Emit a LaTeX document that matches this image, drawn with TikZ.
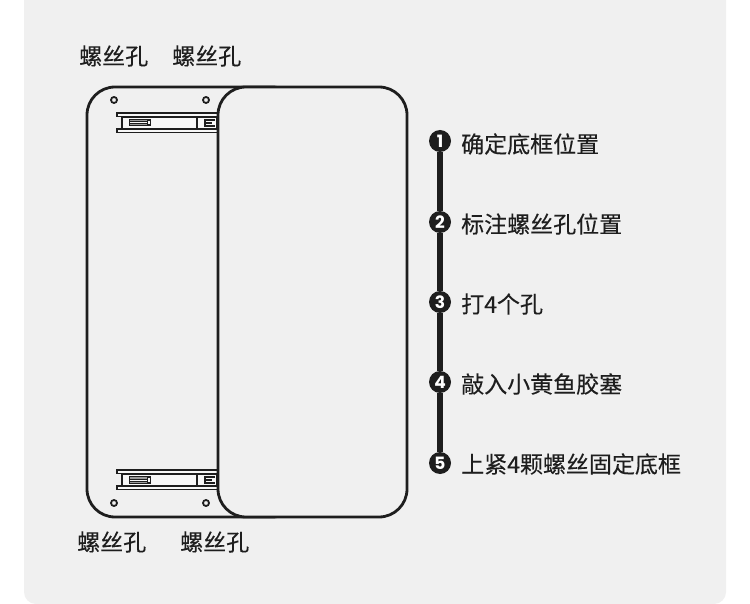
\documentclass[tikz,border=0pt]{standalone}
\usepackage{fontspec}
\setmainfont{Noto Sans CJK SC}[FakeBold=0.15]
\newfontfamily\numfont{Poppins}[BoldFont={* Bold}]
\definecolor{panelc}{HTML}{F0F0F0}
\definecolor{inkc}{HTML}{1E1E1E}
\definecolor{railc}{HTML}{F7F7F7}
\tikzset{
  lab/.style={font=\fontsize{23}{25}\selectfont, text=inkc, inner sep=0pt, anchor=west},
  board/.style={draw=inkc, line width=2.8pt, rounded corners=28pt, fill=panelc},
  hole/.style={circle, draw=inkc, line width=1.8pt, minimum size=6pt, inner sep=0pt, fill=panelc},
  stepdot/.style={circle, fill=inkc, minimum size=22pt, inner sep=0pt, text=white, font=\fontsize{17}{17}\selectfont\numfont\bfseries},
  stepline/.style={draw=inkc, line width=5.2pt},
  bar/.style={draw=inkc, line width=1.9pt, fill=railc},
  part/.style={draw=inkc, line width=2.8pt, fill=railc},
  thin/.style={draw=inkc, line width=1pt, fill=none}
}
\newcommand{\railpart}[1]{%
  \begin{scope}[yshift=#1]
    \draw[bar] (117,113) rectangle (218,116.5);
    \draw[bar] (117,129) rectangle (218,132.5);
    \draw[part] (122,117) rectangle (218,129);
    \draw[thin, fill=inkc!45] (129,119.5) rectangle (150,126);
    \draw[thin, fill=railc] (129,122) rectangle (147,124);
    \draw[thin, fill=railc] (147,120.5) rectangle (150,125);
    \draw[part] (197,117) rectangle (217,129);
    \draw[draw=inkc, line width=2.2pt] (215,120) -- (205,120) -- (205,126) -- (215,126);
    \draw[draw=inkc, line width=2.2pt] (205,123) -- (212,123);
  \end{scope}}
\begin{document}
\begin{tikzpicture}[x=1pt,y=-1pt]
  \useasboundingbox (0,0) rectangle (750,604);
  \fill[white] (0,0) rectangle (750,604);
  \fill[panelc, rounded corners=12pt] (24,-30) rectangle (726,604);

  \node[lab] (t1) at (79,56) {螺丝孔};
  \node[lab] (t2) at (172,56) {螺丝孔};
  \node[lab] (b1) at (77,542) {螺丝孔};
  \node[lab] (b2) at (180,542) {螺丝孔};

  \draw[board] (87,87) rectangle (300,517);
  \node[hole] (h1) at (114,100) {};
  \node[hole] (h2) at (206,100) {};
  \node[hole] (h3) at (114,503) {};
  \node[hole] (h4) at (206,503) {};
  \railpart{0pt}
  \railpart{-357pt}
  \draw[board] (218,87) rectangle (407,517);

  \node[stepdot] (s1) at (440,141) {1};
  \node[stepdot] (s2) at (440,222) {2};
  \node[stepdot] (s3) at (440,302) {3};
  \node[stepdot] (s4) at (440,382) {4};
  \node[stepdot] (s5) at (440,463) {5};
  \draw[stepline] (s1) -- (s2);
  \draw[stepline] (s2) -- (s3);
  \draw[stepline] (s3) -- (s4);
  \draw[stepline] (s4) -- (s5);

  \node[lab] (l1) at (461,144) {确定底框位置};
  \node[lab] (l2) at (461,224) {标注螺丝孔位置};
  \node[lab] (l3) at (461,304) {打4个孔};
  \node[lab] (l4) at (461,384) {敲入小黄鱼胶塞};
  \node[lab] (l5) at (461,464) {上紧4颗螺丝固定底框};
\end{tikzpicture}
\end{document}
